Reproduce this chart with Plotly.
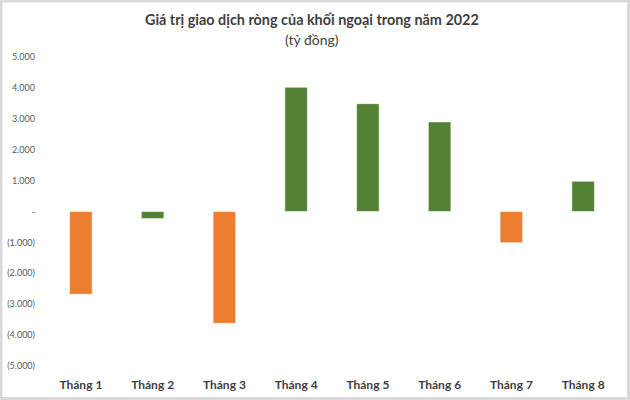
import plotly.graph_objects as go

months = ["Tháng 1", "Tháng 2", "Tháng 3", "Tháng 4", "Tháng 5", "Tháng 6", "Tháng 7", "Tháng 8"]
net_value = [-2680, -230, -3620, 4020, 3490, 2900, -1010, 980]
bar_colors = ["#ED7D31", "#548235", "#ED7D31", "#548235", "#548235", "#548235", "#ED7D31", "#548235"]

tick_vals = [5000, 4000, 3000, 2000, 1000, 0, -1000, -2000, -3000, -4000, -5000]
tick_text = ["5.000", "4.000", "3.000", "2.000", "1.000", "-",
             "(1.000)", "(2.000)", "(3.000)", "(4.000)", "(5.000)"]

W, H = 630, 400
ml, mr, mt, mb = 45, 11, 57, 34

fig = go.Figure()
fig.add_trace(go.Bar(
    x=months, y=net_value,
    marker=dict(color=bar_colors, line=dict(color="rgba(255,255,255,0.6)", width=1)),
    width=0.315,
    hoverinfo="x+y",
))

# light grey frame around the whole picture
pw, ph = W - ml - mr, H - mt - mb
fig.add_shape(type="rect", xref="paper", yref="paper",
              x0=(1 - ml) / pw, x1=(W - 1.5 - ml) / pw,
              y0=(1.5 - mb) / ph, y1=(H - 1 - mb) / ph,
              line=dict(color="#d9d9d9", width=3), layer="below")

fig.update_layout(
    width=W, height=H,
    margin=dict(l=ml, r=mr, t=mt, b=mb),
    paper_bgcolor="white", plot_bgcolor="white",
    font=dict(family="Lato, Open Sans, sans-serif", color="#595959"),
    showlegend=False,
    annotations=[
        dict(text="<b>Giá trị giao dịch ròng của khối ngoại trong năm 2022</b>",
             xref="paper", yref="paper", x=(312 - ml) / pw, y=(H - mb - 20) / ph,
             xanchor="center", yanchor="middle", showarrow=False,
             font=dict(size=14.4, color="#404040")),
        dict(text="(tỷ đồng)",
             xref="paper", yref="paper", x=(312 - ml) / pw, y=(H - mb - 39) / ph,
             xanchor="center", yanchor="middle", showarrow=False,
             font=dict(size=14, color="#404040")),
    ],
)
fig.update_xaxes(showgrid=False, showline=False, ticks="", zeroline=False,
                 automargin=False, ticklabelstandoff=10,
                 tickfont=dict(size=12, color="#404040", family="Lato, sans-serif", weight="bold"))
fig.update_yaxes(range=[-5000, 5000], tickvals=tick_vals, ticktext=tick_text,
                 showgrid=False, zeroline=False, showline=False, ticks="",
                 automargin=False, ticklabelstandoff=9,
                 tickfont=dict(size=9, color="#595959"))

fig.write_html("out.html", config={"displayModeBar": False},
               post_script="document.body.style.margin='0';")
